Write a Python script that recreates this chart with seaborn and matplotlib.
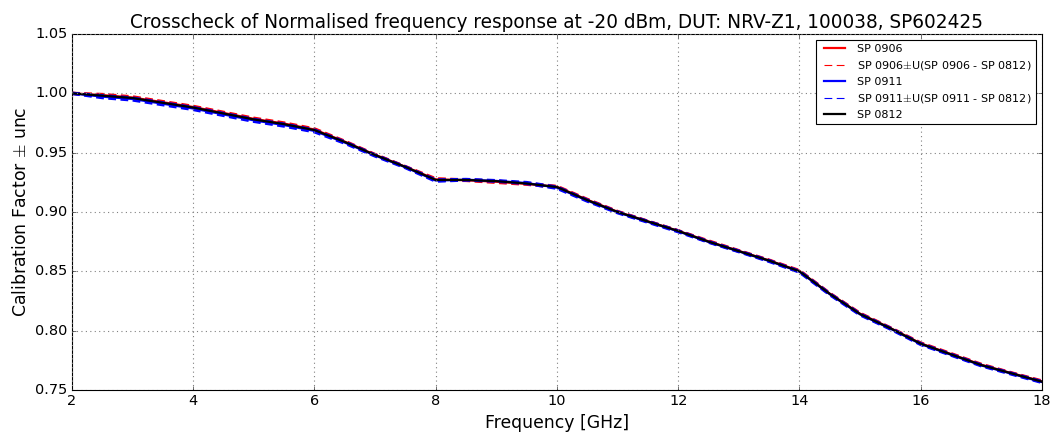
import numpy as np
import pandas as pd
import matplotlib
matplotlib.use("Agg")
from matplotlib import pyplot as plt
import seaborn as sns

# frequency grid and normalised calibration factors
freq = [2.0, 2.5, 3.0, 3.5, 4.0, 4.5, 5.0, 5.5, 6.0, 6.5, 7.0, 7.5, 8.0, 8.5, 9.0, 9.5,
        10.0, 10.5, 11.0, 11.5, 12.0, 12.5, 13.0, 13.5, 14.0, 14.5, 15.0, 15.5, 16.0,
        16.5, 17.0, 17.5, 18.0]
sp0812 = [1.000, 0.998, 0.996, 0.992, 0.988, 0.983, 0.978, 0.974, 0.969, 0.959, 0.948,
          0.938, 0.927, 0.927, 0.926, 0.924, 0.921, 0.910, 0.900, 0.892, 0.884, 0.875,
          0.867, 0.859, 0.850, 0.831, 0.814, 0.802, 0.789, 0.780, 0.771, 0.764, 0.757]
sp0906 = [1.000, 0.9985, 0.9965, 0.9925, 0.9885, 0.9835, 0.9785, 0.9745, 0.9695, 0.9593, 0.9482,
          0.9381, 0.9275, 0.9268, 0.9255, 0.9237, 0.9213, 0.9103, 0.9002, 0.8921, 0.8841, 0.8753,
          0.8672, 0.8592, 0.8503, 0.8312, 0.8143, 0.8022, 0.7893, 0.7803, 0.7713, 0.7642, 0.7573]
sp0911 = [1.000, 0.9972, 0.9952, 0.9912, 0.9872, 0.9822, 0.9772, 0.9732, 0.9683, 0.9585, 0.9476,
          0.9377, 0.9265, 0.9272, 0.9262, 0.9244, 0.9205, 0.9096, 0.8997, 0.8917, 0.8837, 0.8748,
          0.8668, 0.8587, 0.8497, 0.8307, 0.8137, 0.8017, 0.7887, 0.7797, 0.7707, 0.7637, 0.7567]

plt.style.use("classic")
plt.rcParams["figure.facecolor"] = "white"
plt.rcParams["savefig.facecolor"] = "white"

df = pd.DataFrame({"freq": freq, "sp0812": sp0812, "sp0906": sp0906, "sp0911": sp0911})
# uncertainty = difference to the reference sensor
u06 = (df["sp0906"] - df["sp0812"]).abs()
u11 = (df["sp0911"] - df["sp0812"]).abs()

fig = plt.figure(figsize=(13.175, 5.4), dpi=80)
ax = fig.add_axes([0.0683, 0.0972, 0.9203, 0.8241])

dash = (7, 4)
sns.lineplot(x=df["freq"], y=df["sp0906"], color="red", lw=2, label="SP 0906", ax=ax)
sns.lineplot(x=df["freq"], y=df["sp0906"] + u06, color="red", lw=3, ax=ax,
             label=r"SP 0906$\pm$U(SP 0906 - SP 0812)").lines[-1].set_dashes(dash)
sns.lineplot(x=df["freq"], y=df["sp0906"] - u06, color="red", lw=3, ax=ax).lines[-1].set_dashes(dash)
sns.lineplot(x=df["freq"], y=df["sp0911"], color="blue", lw=2, label="SP 0911", ax=ax)
sns.lineplot(x=df["freq"], y=df["sp0911"] + u11, color="blue", lw=3, ax=ax,
             label=r"SP 0911$\pm$U(SP 0911 - SP 0812)").lines[-1].set_dashes(dash)
sns.lineplot(x=df["freq"], y=df["sp0911"] - u11, color="blue", lw=3, ax=ax).lines[-1].set_dashes(dash)
sns.lineplot(x=df["freq"], y=df["sp0812"], color="black", lw=2, label="SP 0812", ax=ax)

ax.set_xlim(2, 18)
ax.set_ylim(0.75, 1.05)
ax.set_xticks([2, 4, 6, 8, 10, 12, 14, 16, 18])
ax.set_yticks([0.75, 0.80, 0.85, 0.90, 0.95, 1.00, 1.05])
ax.set_yticklabels(["0.75", "0.80", "0.85", "0.90", "0.95", "1.00", "1.05"])
ax.grid(True, color="gray", ls=":", lw=1)
ax.tick_params(labelsize=13)
ax.set_xlabel("Frequency [GHz]", fontsize=15.5)
ax.set_ylabel(r"Calibration Factor $\pm$ unc", fontsize=15.5)
ax.set_title("Crosscheck of Normalised frequency response at -20 dBm, DUT: NRV-Z1, 100038, SP602425",
             fontsize=16.7)
leg = ax.legend(loc="upper right", fontsize=10, handlelength=2.5, labelspacing=0.45)
for h in leg.get_lines():
    h.set_linewidth(2 if h.get_linestyle() == "-" else 1)

plt.savefig("out.png", dpi=80)
